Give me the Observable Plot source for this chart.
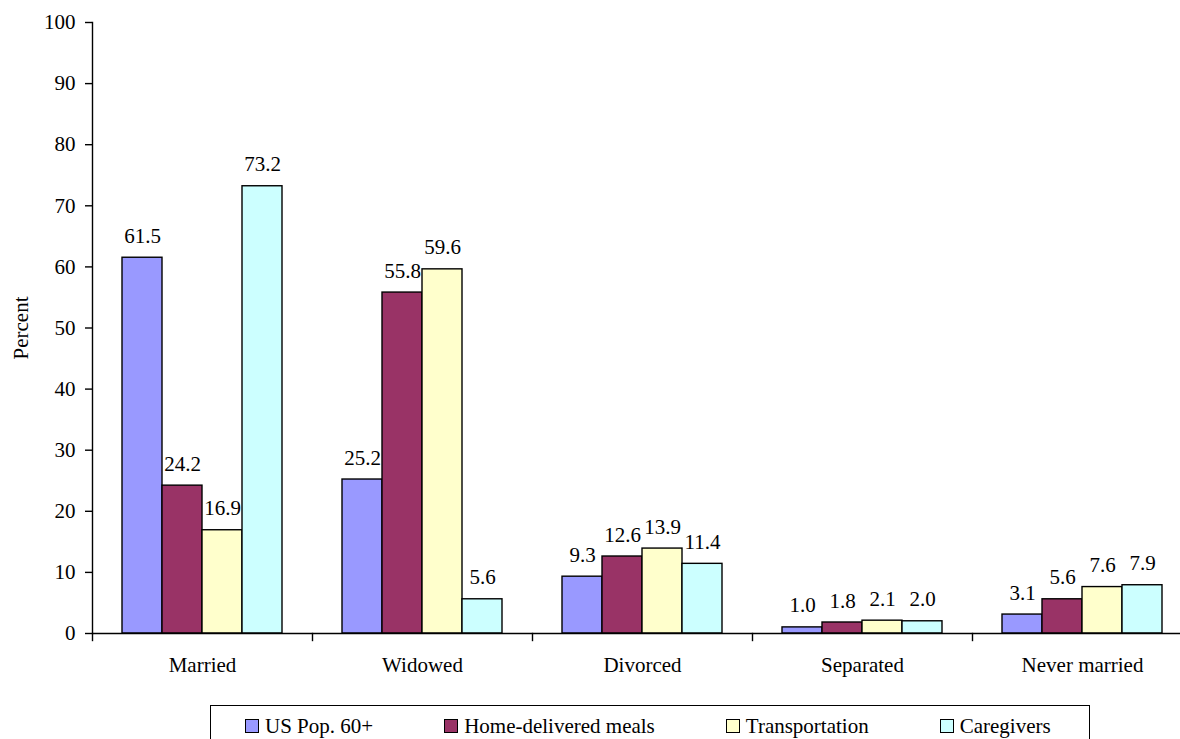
<!DOCTYPE html>
<html>
<head>
<meta charset="utf-8">
<script src="https://cdn.jsdelivr.net/npm/d3@7"></script>
<script src="https://cdn.jsdelivr.net/npm/@observablehq/plot@0.6"></script>
<style>
  html, body { margin: 0; padding: 0; overflow: hidden; background: #fff; }
  #wrap { position: relative; width: 1180px; height: 739px; overflow: hidden; }
  #wrap svg { max-width: none !important; }
  #legend {
    position: absolute; left: 210px; top: 705px; width: 880px; height: 42px;
    box-sizing: border-box; border: 1.5px solid #000; background: #fff;
    display: flex; align-items: center; padding-left: 34px;
    font-family: "Liberation Serif", "Times New Roman", serif; font-size: 21px; line-height: 21px;
    gap: 71px;
  }
  #legend .item { display: flex; align-items: center; gap: 6px; }
  #legend .sw { width: 12px; height: 12px; border: 1.5px solid #000; }
</style>
</head>
<body>
<div id="wrap"></div>
<script>
// Marital status of older adults, by group (percent)
const categories = ["Married", "Widowed", "Divorced", "Separated", "Never married"];
const series = ["US Pop. 60+", "Home-delivered meals", "Transportation", "Caregivers"];
const colors = ["#9999ff", "#993366", "#ffffcc", "#ccffff"];

const usPop60 = [61.5, 25.2, 9.3, 1.0, 3.1];
const homeDeliveredMeals = [24.2, 55.8, 12.6, 1.8, 5.6];
const transportation = [16.9, 59.6, 13.9, 2.1, 7.6];
const caregivers = [73.2, 5.6, 11.4, 2.0, 7.9];

const yTicks = [0, 10, 20, 30, 40, 50, 60, 70, 80, 90, 100];

const valuesBySeries = [usPop60, homeDeliveredMeals, transportation, caregivers];
const data = series.flatMap((s, i) =>
  categories.map((c, j) => ({category: c, series: s, value: valuesBySeries[i][j]}))
);

const font = "'Liberation Serif', 'Times New Roman', serif";

const chart = Plot.plot({
  width: 1200,
  height: 700,
  marginLeft: 92,
  marginRight: 8,
  marginTop: 22,
  marginBottom: 67,
  style: {fontFamily: font, fontSize: "21px", color: "#000", background: "transparent"},
  fx: {domain: categories, padding: 0},
  x: {domain: series, paddingInner: 0, paddingOuter: 0.75, axis: null},
  y: {domain: [0, 100]},
  color: {domain: series, range: colors},
  marks: [
    Plot.barY(data, {
      fx: "category", x: "series", y: "value", fill: "series",
      stroke: "#000", strokeWidth: 1.4
    }),
    Plot.text(data, {
      fx: "category", x: "series", y: "value",
      text: d => d.value.toFixed(1),
      lineAnchor: "bottom", dy: -15, fill: "#000"
    }),
    // category axis line and group separators
    Plot.ruleY([0], {stroke: "#000", strokeWidth: 1.4}),
    Plot.frame({anchor: "left", insetTop: 611, insetBottom: -7, stroke: "#000", strokeWidth: 1.4}),
    // value axis line
    Plot.frame({anchor: "left", facetAnchor: "left", stroke: "#000", strokeWidth: 1.4}),
    Plot.axisY({
      ticks: yTicks, tickSize: 7, tickPadding: 10, strokeWidth: 1.4,
      label: "Percent", labelAnchor: "center", labelArrow: "none", labelOffset: 79
    }),
    Plot.axisFx({anchor: "bottom", tickSize: 0, tickPadding: 24, label: null})
  ]
});

const wrap = document.getElementById("wrap");
wrap.appendChild(chart);

// legend below the chart
const legend = document.createElement("div");
legend.id = "legend";
series.forEach((s, i) => {
  const item = document.createElement("div");
  item.className = "item";
  const sw = document.createElement("div");
  sw.className = "sw";
  sw.style.background = colors[i];
  const label = document.createElement("span");
  label.textContent = s;
  item.appendChild(sw);
  item.appendChild(label);
  legend.appendChild(item);
});
wrap.appendChild(legend);
</script>
</body>
</html>
